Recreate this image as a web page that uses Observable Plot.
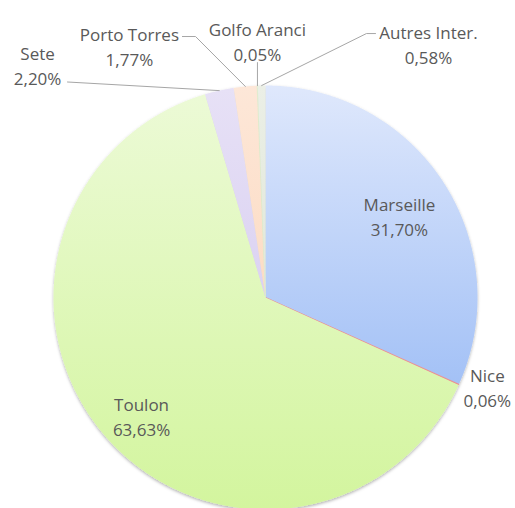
<!DOCTYPE html>
<html><head><meta charset="utf-8">
<script src="https://cdn.jsdelivr.net/npm/d3@7"></script>
<script src="https://cdn.jsdelivr.net/npm/@observablehq/plot@0.6"></script>
<style>body{margin:0;background:#fff}</style>
</head><body><div id="chart"></div>
<script>
// ---- data ----
const categories = ["Marseille", "Nice", "Toulon", "Sete", "Porto Torres", "Golfo Aranci", "Autres Inter."];
const shares = [31.70, 0.06, 63.63, 2.20, 1.77, 0.05, 0.58];
const shareLabels = ["31,70%", "0,06%", "63,63%", "2,20%", "1,77%", "0,05%", "0,58%"];

// ---- styling / layout ----
const gradientStops = [
  ["#dfe8fc", "#a3c1f6"],
  ["#f4a6a6", "#ee8c8c"],
  ["#ecfad6", "#d3f59e"],
  ["#e7e1f6", "#dbd2f2"],
  ["#fde7d8", "#fcdcc4"],
  ["#e9f3df", "#dcecca"],
  ["#ebefe6", "#e1e8d9"]
];
// label anchors: [angle (deg, clockwise from top), distance in radii]
const labelPolar = [[58.4, 0.742], [111.8, 1.127], [226.5, 0.806], [315.65, 1.538], [331.65, 1.352], [358.2, 1.215], [32.65, 1.425]];
// leader lines (in radius units), from slice edge to the label
const leaderPaths = {
  "Sete": [[-0.934, 1.0165]],
  "Porto Torres": [[-0.330, 1.231], [-0.392, 1.231]],
  "Golfo Aranci": [[null, 1.108]],
  "Autres Inter.": [[0.476, 1.245], [0.519, 1.245]]
};

const arcs = d3.pie().sort(null).value(d => d)(shares);
const deg = Math.PI / 180;

const slices = arcs.map((a, i) => {
  const pts = [{x: 0, y: 0}];
  const n = Math.max(2, Math.ceil((a.endAngle - a.startAngle) / (0.25 * deg)));
  for (let k = 0; k <= n; k++) {
    const t = a.startAngle + (a.endAngle - a.startAngle) * k / n;
    pts.push({x: Math.sin(t), y: Math.cos(t)});
  }
  pts.push({x: 0, y: 0});
  return pts;
});

const labels = categories.map((c, i) => {
  const [ang, r] = labelPolar[i];
  return {x: r * Math.sin(ang * deg), y: r * Math.cos(ang * deg), text: c + "\n" + shareLabels[i]};
});

const leaders = [];
categories.forEach((c, i) => {
  if (!leaderPaths[c]) return;
  const mid = (arcs[i].startAngle + arcs[i].endAngle) / 2;
  const ex = Math.sin(mid), ey = Math.cos(mid);
  leaders.push({key: c, x: ex, y: ey});
  leaderPaths[c].forEach(([x, y]) => leaders.push({key: c, x: x === null ? ex : x, y}));
});

const plot = Plot.plot({
  width: 515,
  height: 508,
  margin: 0,
  x: {domain: [-1, 1], range: [53, 477], axis: null},
  y: {domain: [-1, 1], range: [509, 85], axis: null},
  marks: [
    ...slices.map((pts, i) => Plot.line(pts, {x: "x", y: "y", fill: `url(#sliceGrad${i})`, stroke: i === 1 || i === 5 ? gradientStops[i][1] : "none", strokeWidth: 0.6, curve: "linear", className: "slice"})),
    Plot.line(leaders, {x: "x", y: "y", z: "key", stroke: "#a6a6a6", strokeWidth: 1}),
    Plot.text(labels, {x: "x", y: "y", text: "text", fill: "#595959", fontSize: 17, lineHeight: 25 / 17, fontFamily: "Open Sans"})
  ]
});

const svg = d3.select(plot);
const defs = svg.insert("defs", ":first-child");
const f = defs.append("filter").attr("id", "pieShadow").attr("x", "-10%").attr("y", "-10%").attr("width", "120%").attr("height", "120%");
f.append("feDropShadow").attr("dx", 0).attr("dy", 1.5).attr("stdDeviation", 1.8).attr("flood-color", "#000").attr("flood-opacity", 0.3);
gradientStops.forEach(([a, b], i) => {
  const g = defs.append("linearGradient").attr("id", `sliceGrad${i}`).attr("x1", 0).attr("y1", 0).attr("x2", 0).attr("y2", 1);
  g.append("stop").attr("offset", "0%").attr("stop-color", a);
  g.append("stop").attr("offset", "100%").attr("stop-color", b);
});
// group the slices under one shadow
const sliceGroup = svg.insert("g", "defs + *").attr("filter", "url(#pieShadow)");
svg.selectAll("g.slice").each(function() { sliceGroup.node().appendChild(this); });

document.getElementById("chart").appendChild(plot);
</script>
</body></html>
